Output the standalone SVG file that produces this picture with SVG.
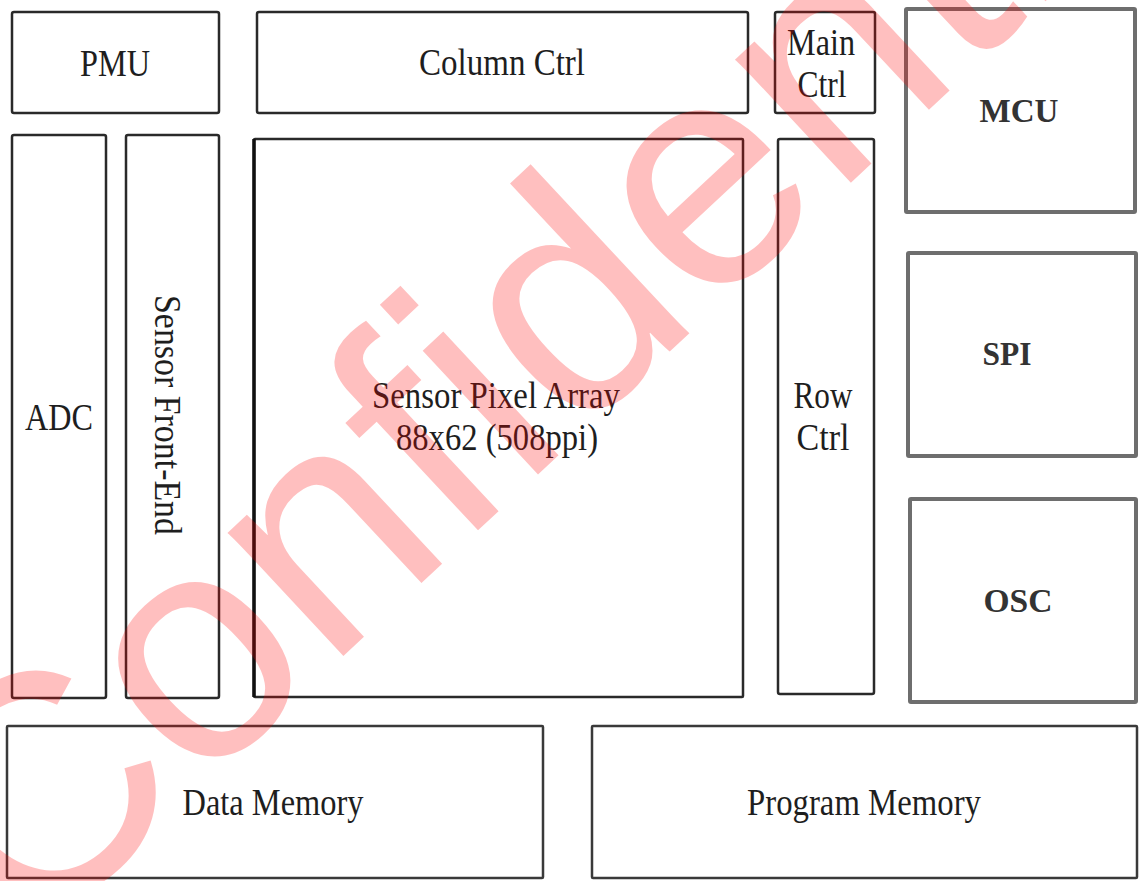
<svg xmlns="http://www.w3.org/2000/svg" width="1139" height="881" viewBox="0 0 1139 881">
  <style>
    .box { fill: #ffffff; stroke: #2a2a2a; stroke-width: 2.5; }
    .gbox { fill: #ffffff; stroke: #6e6e6e; stroke-width: 4; }
    .mbox { fill: #ffffff; stroke: #3a3a3a; stroke-width: 2.5; }
    .lbl { font-family: "Liberation Serif", "Times New Roman", serif; font-size: 38px; fill: #1e1e1e; text-anchor: middle; }
    .blbl { font-family: "Liberation Serif", "Times New Roman", serif; font-size: 34px; font-weight: bold; fill: #333333; text-anchor: middle; }
    .wm { font-family: "Liberation Sans", Arial, sans-serif; font-size: 320px; fill: #ff0000; fill-opacity: 0.25; }
  </style>
  <rect x="0" y="0" width="1139" height="881" fill="#ffffff"/>

  <g id="pmu">
    <rect class="box" x="12" y="12" width="207" height="101" rx="2"/>
    <text class="lbl" x="115" y="76" textLength="70" lengthAdjust="spacingAndGlyphs">PMU</text>
  </g>
  <g id="column-ctrl">
    <rect class="box" x="257" y="12" width="491" height="101" rx="2"/>
    <text class="lbl" x="502" y="75" textLength="166" lengthAdjust="spacingAndGlyphs">Column Ctrl</text>
  </g>
  <g id="main-ctrl">
    <rect class="box" x="775" y="12" width="100" height="101" rx="2"/>
    <text class="lbl" x="821" y="55" textLength="68" lengthAdjust="spacingAndGlyphs">Main</text>
    <text class="lbl" x="822" y="97" textLength="49" lengthAdjust="spacingAndGlyphs">Ctrl</text>
  </g>
  <g id="mcu">
    <rect class="gbox" x="906" y="9" width="229" height="203" rx="1"/>
    <text class="blbl" x="1019" y="122" textLength="79" lengthAdjust="spacingAndGlyphs">MCU</text>
  </g>
  <g id="adc">
    <rect class="box" x="12" y="135" width="94" height="563" rx="2"/>
    <text class="lbl" x="59" y="430" textLength="68" lengthAdjust="spacingAndGlyphs">ADC</text>
  </g>
  <g id="sensor-front-end">
    <rect class="box" x="126" y="135" width="93" height="563" rx="2"/>
    <text class="lbl" transform="translate(155,415) rotate(90)" x="0" y="0" textLength="240" lengthAdjust="spacingAndGlyphs">Sensor Front-End</text>
  </g>
  <g id="sensor-pixel-array">
    <rect class="box" x="254" y="139" width="489" height="558" rx="1"/>
    <line x1="254" y1="139" x2="254" y2="697" stroke="#111111" stroke-width="3.5"/>
    <text class="lbl" x="496" y="408" textLength="248" lengthAdjust="spacingAndGlyphs">Sensor Pixel Array</text>
    <text class="lbl" x="497" y="450" textLength="202" lengthAdjust="spacingAndGlyphs">88x62 (508ppi)</text>
  </g>
  <g id="row-ctrl">
    <rect class="box" x="778" y="139" width="96" height="555" rx="2"/>
    <text class="lbl" x="823" y="408" textLength="59" lengthAdjust="spacingAndGlyphs">Row</text>
    <text class="lbl" x="823" y="450" textLength="53" lengthAdjust="spacingAndGlyphs">Ctrl</text>
  </g>
  <g id="spi">
    <rect class="gbox" x="908" y="253" width="228" height="203" rx="1"/>
    <text class="blbl" x="1007" y="365" textLength="49" lengthAdjust="spacingAndGlyphs">SPI</text>
  </g>
  <g id="osc">
    <rect class="gbox" x="910" y="499" width="226" height="203" rx="1"/>
    <text class="blbl" x="1018" y="612" textLength="69" lengthAdjust="spacingAndGlyphs">OSC</text>
  </g>
  <g id="data-memory">
    <rect class="mbox" x="7" y="726" width="536" height="152" rx="1"/>
    <text class="lbl" x="273" y="815" textLength="181" lengthAdjust="spacingAndGlyphs">Data Memory</text>
  </g>
  <g id="program-memory">
    <rect class="mbox" x="592" y="726" width="545" height="152" rx="1"/>
    <text class="lbl" x="864" y="815" textLength="234" lengthAdjust="spacingAndGlyphs">Program Memory</text>
  </g>

  <g id="connectors"></g>

  <g id="watermark">
    <text class="wm" transform="translate(28,950) rotate(-43)" x="0" y="0">Confidential</text>
  </g>
</svg>
